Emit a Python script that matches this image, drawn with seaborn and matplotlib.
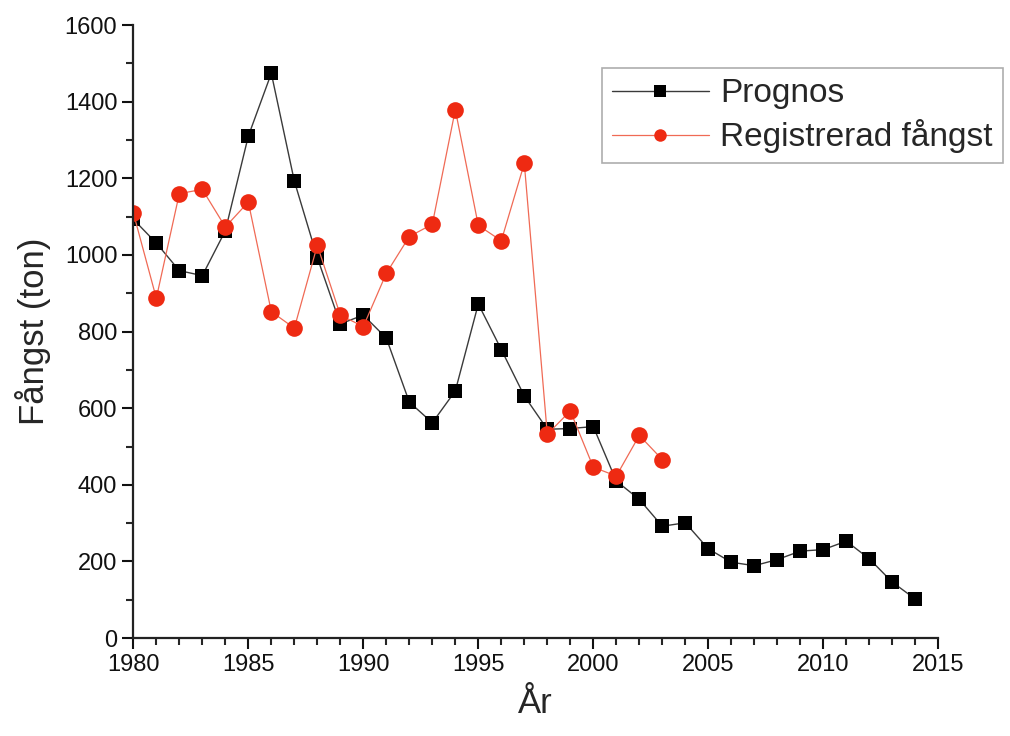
import numpy as np
import pandas as pd
import seaborn as sns
import matplotlib.pyplot as plt
from matplotlib.ticker import MultipleLocator

# data
prog_years = list(range(1980, 2015))
prognos = [1093, 1031, 959, 946, 1063, 1310, 1474, 1193, 993, 820,
           843, 783, 616, 562, 645, 872, 753, 632, 545, 547,
           552, 410, 362, 292, 301, 233, 198, 189, 205, 227,
           231, 253, 207, 146, 102]
reg_years = list(range(1980, 2004))
registrerad = [1110, 887, 1160, 1171, 1073, 1138, 852, 809, 1025, 843,
               813, 952, 1048, 1080, 1379, 1077, 1037, 1239, 532, 593,
               446, 423, 529, 466]

sns.set_theme(style="ticks")
plt.rcParams['font.family'] = ['Liberation Sans', 'DejaVu Sans']

fig = plt.figure(figsize=(10.1, 7.36), dpi=100)
ax = fig.add_axes([0.132, 0.133, 0.797, 0.833])

df_p = pd.DataFrame({"year": prog_years, "val": prognos})
df_r = pd.DataFrame({"year": reg_years, "val": registrerad})

sns.lineplot(data=df_p, x="year", y="val", ax=ax, color="#3a3a3a", lw=1.0,
             marker="s", markersize=10.5, markeredgewidth=0,
             markerfacecolor="black", label="Prognos")
sns.lineplot(data=df_r, x="year", y="val", ax=ax, color="#f06a55", lw=0.9,
             marker="o", markersize=12, markeredgewidth=0,
             markerfacecolor="#ee2a12", label="Registrerad fångst")

ax.set_xlim(1980, 2015)
ax.set_ylim(0, 1600)
ax.xaxis.set_major_locator(MultipleLocator(5))
ax.xaxis.set_minor_locator(MultipleLocator(1))
ax.yaxis.set_major_locator(MultipleLocator(200))
ax.yaxis.set_minor_locator(MultipleLocator(100))
ax.tick_params(which="major", length=8, width=1.5, labelsize=17, colors="#111111")
ax.tick_params(which="minor", length=5, width=1.5)
for s in ["left", "bottom"]:
    ax.spines[s].set_linewidth(1.6)
    ax.spines[s].set_color("#222222")
sns.despine(ax=ax)

ax.set_xlabel("År", fontsize=25, labelpad=8)
ax.set_ylabel("Fångst (ton)", fontsize=25, labelpad=10)

leg = ax.legend(loc="upper right", bbox_to_anchor=(0.993, 0.907), bbox_transform=fig.transFigure,
                fontsize=24, frameon=True, fancybox=False, edgecolor="#999999",
                handlelength=2.9, handletextpad=0.35, borderpad=0.3, labelspacing=0.3,
                borderaxespad=0)
leg.get_frame().set_linewidth(1.2)
for h in leg.legend_handles:
    h.set_markersize(9)

fig.savefig("out.png", dpi=100)
